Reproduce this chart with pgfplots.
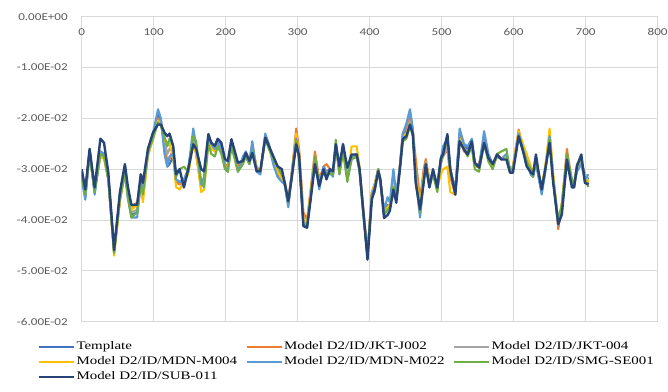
\documentclass[border=0pt]{standalone}
\usepackage{fontspec}
\setmainfont{Carlito}[FakeStretch=1.25]
\usepackage{pgfplots}
\usepackage{pgfplotstable}
\pgfplotsset{compat=1.18}
\newfontfamily\legfont{Liberation Serif}[FakeStretch=1.3]
\definecolor{cTemp}{HTML}{4472C4}
\definecolor{cJ002}{HTML}{ED7D31}
\definecolor{cJ004}{HTML}{A5A5A5}
\definecolor{cM004}{HTML}{FFC000}
\definecolor{cM022}{HTML}{5B9BD5}
\definecolor{cSE}{HTML}{70AD47}
\definecolor{cSUB}{HTML}{264478}
\definecolor{gridc}{HTML}{D9D9D9}
\definecolor{labc}{HTML}{595959}
\pgfplotstableread{
x T O G Y L S N
0 -0.0310 -0.0305 -0.0305 -0.0310 -0.0320 -0.0315 -0.0300
5 -0.0355 -0.0345 -0.0345 -0.0350 -0.0360 -0.0350 -0.0340
11 -0.0265 -0.0265 -0.0265 -0.0270 -0.0262 -0.0270 -0.0260
18 -0.0345 -0.0340 -0.0340 -0.0340 -0.0350 -0.0345 -0.0336
26 -0.0270 -0.0265 -0.0270 -0.0275 -0.0265 -0.0270 -0.0240
31 -0.0275 -0.0270 -0.0275 -0.0280 -0.0270 -0.0275 -0.0248
37 -0.0320 -0.0315 -0.0315 -0.0320 -0.0320 -0.0320 -0.0307
45 -0.0462 -0.0460 -0.0462 -0.0470 -0.0462 -0.0465 -0.0459
53 -0.0360 -0.0360 -0.0355 -0.0365 -0.0350 -0.0360 -0.0346
60 -0.0300 -0.0305 -0.0300 -0.0300 -0.0295 -0.0310 -0.0290
64 -0.0350 -0.0345 -0.0350 -0.0345 -0.0355 -0.0355 -0.0333
69 -0.0390 -0.0375 -0.0385 -0.0380 -0.0395 -0.0395 -0.0370
77 -0.0385 -0.0365 -0.0380 -0.0370 -0.0395 -0.0385 -0.0370
82 -0.0330 -0.0325 -0.0330 -0.0335 -0.0325 -0.0330 -0.0310
85 -0.0350 -0.0340 -0.0345 -0.0365 -0.0345 -0.0350 -0.0327
92 -0.0270 -0.0265 -0.0270 -0.0275 -0.0270 -0.0265 -0.0260
99 -0.0240 -0.0235 -0.0235 -0.0240 -0.0230 -0.0240 -0.0228
106 -0.0190 -0.0200 -0.0205 -0.0205 -0.0182 -0.0208 -0.0212
110 -0.0205 -0.0205 -0.0210 -0.0210 -0.0200 -0.0215 -0.0212
115 -0.0260 -0.0250 -0.0245 -0.0245 -0.0270 -0.0235 -0.0228
119 -0.0295 -0.0285 -0.0270 -0.0250 -0.0295 -0.0255 -0.0235
122 -0.0290 -0.0280 -0.0260 -0.0250 -0.0275 -0.0240 -0.0230
127 -0.0275 -0.0260 -0.0265 -0.0275 -0.0270 -0.0255 -0.0254
131 -0.0320 -0.0325 -0.0320 -0.0335 -0.0320 -0.0315 -0.0310
136 -0.0330 -0.0330 -0.0325 -0.0340 -0.0325 -0.0300 -0.0300
142 -0.0325 -0.0325 -0.0330 -0.0325 -0.0320 -0.0295 -0.0336
148 -0.0300 -0.0305 -0.0300 -0.0310 -0.0300 -0.0305 -0.0300
155 -0.0235 -0.0245 -0.0240 -0.0250 -0.0220 -0.0235 -0.0251
159 -0.0270 -0.0265 -0.0270 -0.0270 -0.0255 -0.0245 -0.0260
166 -0.0330 -0.0330 -0.0335 -0.0345 -0.0330 -0.0325 -0.0300
170 -0.0320 -0.0320 -0.0325 -0.0340 -0.0315 -0.0335 -0.0304
176 -0.0240 -0.0240 -0.0240 -0.0245 -0.0235 -0.0250 -0.0231
180 -0.0255 -0.0255 -0.0260 -0.0260 -0.0250 -0.0270 -0.0248
185 -0.0260 -0.0265 -0.0260 -0.0265 -0.0260 -0.0275 -0.0254
189 -0.0245 -0.0250 -0.0250 -0.0255 -0.0245 -0.0255 -0.0240
194 -0.0255 -0.0255 -0.0260 -0.0265 -0.0260 -0.0270 -0.0248
199 -0.0290 -0.0290 -0.0295 -0.0295 -0.0295 -0.0300 -0.0280
203 -0.0295 -0.0295 -0.0300 -0.0300 -0.0305 -0.0305 -0.0284
208 -0.0245 -0.0250 -0.0250 -0.0255 -0.0245 -0.0255 -0.0241
217 -0.0295 -0.0295 -0.0300 -0.0300 -0.0305 -0.0305 -0.0287
224 -0.0280 -0.0285 -0.0285 -0.0285 -0.0275 -0.0290 -0.0284
228 -0.0275 -0.0270 -0.0270 -0.0270 -0.0265 -0.0275 -0.0268
233 -0.0290 -0.0280 -0.0285 -0.0280 -0.0285 -0.0290 -0.0284
237 -0.0260 -0.0255 -0.0260 -0.0250 -0.0245 -0.0265 -0.0268
243 -0.0300 -0.0295 -0.0300 -0.0300 -0.0305 -0.0300 -0.0304
248 -0.0310 -0.0305 -0.0305 -0.0305 -0.0310 -0.0305 -0.0304
255 -0.0235 -0.0240 -0.0240 -0.0240 -0.0230 -0.0240 -0.0238
260 -0.0255 -0.0255 -0.0255 -0.0255 -0.0250 -0.0260 -0.0254
266 -0.0285 -0.0280 -0.0285 -0.0285 -0.0290 -0.0280 -0.0274
272 -0.0310 -0.0300 -0.0305 -0.0305 -0.0315 -0.0295 -0.0294
278 -0.0320 -0.0310 -0.0315 -0.0320 -0.0325 -0.0310 -0.0300
282 -0.0330 -0.0325 -0.0330 -0.0330 -0.0330 -0.0325 -0.0327
287 -0.0370 -0.0360 -0.0365 -0.0365 -0.0375 -0.0365 -0.0363
292 -0.0305 -0.0305 -0.0310 -0.0310 -0.0310 -0.0315 -0.0314
298 -0.0240 -0.0220 -0.0235 -0.0230 -0.0240 -0.0245 -0.0251
302 -0.0280 -0.0260 -0.0275 -0.0270 -0.0280 -0.0280 -0.0274
308 -0.0400 -0.0385 -0.0405 -0.0400 -0.0410 -0.0410 -0.0412
313 -0.0410 -0.0400 -0.0410 -0.0405 -0.0415 -0.0415 -0.0415
318 -0.0350 -0.0340 -0.0350 -0.0345 -0.0355 -0.0355 -0.0360
324 -0.0285 -0.0265 -0.0275 -0.0280 -0.0285 -0.0275 -0.0290
330 -0.0335 -0.0320 -0.0325 -0.0330 -0.0340 -0.0330 -0.0333
336 -0.0295 -0.0295 -0.0300 -0.0305 -0.0295 -0.0305 -0.0300
340 -0.0305 -0.0290 -0.0305 -0.0310 -0.0310 -0.0310 -0.0320
345 -0.0300 -0.0300 -0.0305 -0.0305 -0.0305 -0.0310 -0.0300
349 -0.0310 -0.0310 -0.0310 -0.0310 -0.0315 -0.0310 -0.0304
353 -0.0250 -0.0255 -0.0250 -0.0255 -0.0250 -0.0242 -0.0251
358 -0.0305 -0.0300 -0.0305 -0.0305 -0.0310 -0.0310 -0.0294
363 -0.0255 -0.0260 -0.0260 -0.0265 -0.0250 -0.0265 -0.0251
369 -0.0315 -0.0310 -0.0315 -0.0315 -0.0320 -0.0325 -0.0297
375 -0.0280 -0.0275 -0.0275 -0.0255 -0.0275 -0.0280 -0.0271
382 -0.0275 -0.0275 -0.0270 -0.0255 -0.0270 -0.0275 -0.0271
386 -0.0300 -0.0300 -0.0300 -0.0295 -0.0300 -0.0305 -0.0300
391 -0.0380 -0.0375 -0.0380 -0.0380 -0.0385 -0.0385 -0.0380
397 -0.0470 -0.0465 -0.0470 -0.0470 -0.0470 -0.0472 -0.0478
403 -0.0350 -0.0345 -0.0350 -0.0345 -0.0350 -0.0355 -0.0360
407 -0.0330 -0.0330 -0.0335 -0.0330 -0.0335 -0.0345 -0.0340
412 -0.0300 -0.0300 -0.0300 -0.0300 -0.0300 -0.0300 -0.0304
415 -0.0325 -0.0325 -0.0330 -0.0325 -0.0325 -0.0330 -0.0320
420 -0.0385 -0.0380 -0.0385 -0.0380 -0.0380 -0.0390 -0.0396
425 -0.0370 -0.0375 -0.0375 -0.0375 -0.0355 -0.0380 -0.0390
428 -0.0375 -0.0370 -0.0370 -0.0370 -0.0365 -0.0375 -0.0382
433 -0.0320 -0.0330 -0.0325 -0.0330 -0.0300 -0.0335 -0.0340
437 -0.0360 -0.0355 -0.0360 -0.0355 -0.0350 -0.0360 -0.0366
442 -0.0295 -0.0295 -0.0295 -0.0295 -0.0295 -0.0300 -0.0300
446 -0.0235 -0.0230 -0.0240 -0.0235 -0.0230 -0.0245 -0.0241
451 -0.0220 -0.0215 -0.0230 -0.0230 -0.0210 -0.0240 -0.0235
456 -0.0190 -0.0195 -0.0205 -0.0210 -0.0182 -0.0215 -0.0212
460 -0.0225 -0.0225 -0.0230 -0.0230 -0.0220 -0.0235 -0.0231
464 -0.0315 -0.0280 -0.0310 -0.0310 -0.0320 -0.0320 -0.0327
470 -0.0385 -0.0360 -0.0375 -0.0370 -0.0395 -0.0385 -0.0379
475 -0.0320 -0.0300 -0.0310 -0.0315 -0.0325 -0.0320 -0.0327
478 -0.0290 -0.0280 -0.0285 -0.0290 -0.0295 -0.0295 -0.0290
483 -0.0325 -0.0320 -0.0325 -0.0320 -0.0330 -0.0335 -0.0336
488 -0.0305 -0.0310 -0.0310 -0.0310 -0.0310 -0.0310 -0.0300
494 -0.0330 -0.0335 -0.0335 -0.0335 -0.0330 -0.0345 -0.0336
499 -0.0280 -0.0280 -0.0290 -0.0310 -0.0280 -0.0285 -0.0278
502 -0.0260 -0.0275 -0.0275 -0.0300 -0.0255 -0.0270 -0.0271
508 -0.0240 -0.0260 -0.0255 -0.0295 -0.0240 -0.0240 -0.0231
512 -0.0300 -0.0315 -0.0310 -0.0345 -0.0300 -0.0305 -0.0300
519 -0.0340 -0.0350 -0.0340 -0.0350 -0.0345 -0.0345 -0.0350
525 -0.0230 -0.0235 -0.0240 -0.0240 -0.0220 -0.0245 -0.0245
531 -0.0255 -0.0265 -0.0260 -0.0260 -0.0250 -0.0260 -0.0261
536 -0.0260 -0.0270 -0.0265 -0.0270 -0.0255 -0.0275 -0.0271
542 -0.0250 -0.0250 -0.0255 -0.0255 -0.0240 -0.0255 -0.0245
546 -0.0290 -0.0290 -0.0295 -0.0295 -0.0290 -0.0300 -0.0287
552 -0.0295 -0.0290 -0.0295 -0.0295 -0.0295 -0.0305 -0.0297
559 -0.0240 -0.0245 -0.0245 -0.0250 -0.0225 -0.0250 -0.0248
565 -0.0275 -0.0280 -0.0280 -0.0280 -0.0270 -0.0285 -0.0278
571 -0.0290 -0.0290 -0.0295 -0.0295 -0.0290 -0.0300 -0.0290
577 -0.0275 -0.0270 -0.0275 -0.0275 -0.0275 -0.0270 -0.0271
583 -0.0280 -0.0280 -0.0280 -0.0280 -0.0280 -0.0265 -0.0281
590 -0.0275 -0.0275 -0.0280 -0.0275 -0.0270 -0.0260 -0.0281
595 -0.0300 -0.0300 -0.0305 -0.0305 -0.0300 -0.0305 -0.0307
599 -0.0300 -0.0295 -0.0300 -0.0295 -0.0300 -0.0300 -0.0307
607 -0.0230 -0.0222 -0.0230 -0.0225 -0.0230 -0.0235 -0.0235
613 -0.0255 -0.0260 -0.0260 -0.0250 -0.0260 -0.0265 -0.0264
618 -0.0280 -0.0280 -0.0275 -0.0270 -0.0285 -0.0285 -0.0294
624 -0.0310 -0.0305 -0.0305 -0.0295 -0.0310 -0.0300 -0.0307
627 -0.0315 -0.0310 -0.0310 -0.0305 -0.0315 -0.0315 -0.0310
631 -0.0285 -0.0280 -0.0280 -0.0285 -0.0285 -0.0280 -0.0271
634 -0.0310 -0.0305 -0.0305 -0.0305 -0.0310 -0.0305 -0.0300
639 -0.0345 -0.0340 -0.0340 -0.0335 -0.0350 -0.0335 -0.0340
644 -0.0300 -0.0295 -0.0300 -0.0295 -0.0305 -0.0300 -0.0300
650 -0.0240 -0.0235 -0.0235 -0.0220 -0.0235 -0.0240 -0.0248
655 -0.0320 -0.0315 -0.0320 -0.0310 -0.0325 -0.0320 -0.0327
662 -0.0405 -0.0418 -0.0405 -0.0410 -0.0410 -0.0400 -0.0408
667 -0.0375 -0.0370 -0.0370 -0.0365 -0.0375 -0.0370 -0.0389
674 -0.0285 -0.0260 -0.0275 -0.0275 -0.0280 -0.0270 -0.0281
681 -0.0330 -0.0325 -0.0325 -0.0330 -0.0330 -0.0320 -0.0336
684 -0.0335 -0.0330 -0.0330 -0.0330 -0.0330 -0.0330 -0.0336
688 -0.0300 -0.0295 -0.0300 -0.0300 -0.0305 -0.0290 -0.0294
694 -0.0285 -0.0285 -0.0285 -0.0290 -0.0290 -0.0280 -0.0271
699 -0.0310 -0.0315 -0.0315 -0.0310 -0.0320 -0.0320 -0.0327
704 -0.0320 -0.0330 -0.0325 -0.0325 -0.0310 -0.0335 -0.0330
}\datatable
\begin{document}
\begin{tikzpicture}
\useasboundingbox (-81.7pt,-69.3pt) rectangle (586.3pt,321.7pt);
\begin{axis}[
  at={(0pt,0pt)}, anchor=south west,
  scale only axis, width=575.9pt, height=305pt,
  xmin=0, xmax=800, ymin=-0.06, ymax=0,
  xtick={0,100,...,800},
  ytick={-0.06,-0.05,-0.04,-0.03,-0.02,-0.01,0},
  yticklabels={-6.00E-02,-5.00E-02,-4.00E-02,-3.00E-02,-2.00E-02,-1.00E-02,0.00E+00},
  scaled y ticks=false,
  /pgf/number format/assume math mode=true,
  tick label style={font=\fontsize{10.5}{12}\selectfont, text=labc},
  xticklabel pos=upper,
  xticklabel style={anchor=north, inner sep=0pt, yshift=-11.7pt},
  yticklabel style={anchor=east, inner sep=0pt, xshift=-13.7pt},
  major tick length=0pt,
  grid=major,
  grid style={draw=gridc, line width=0.9pt},
  axis line style={draw=gridc, line width=0.9pt},
  legend columns=3,
  legend cell align=left,
  legend image code/.code={\draw[line width=1.8pt] (0pt,0pt) -- (35pt,0pt);},
  legend style={draw=none, fill=none, at={(axis description cs:0,0)}, anchor=north west,
    xshift=-43.7pt, yshift=-18.5pt, inner sep=0pt, row sep=1.5pt,
    font=\legfont\fontsize{11.5}{13}\selectfont,
    nodes={inner sep=1.5pt, text height=8pt, text depth=2.5pt},
    /tikz/every even column/.append style={column sep=7pt}},
  every axis plot/.append style={line join=round, line width=2.1pt},
]
\addplot[cTemp, no markers] table[x=x, y=T] {\datatable};
\addlegendentry{Template}
\addplot[cJ002, no markers] table[x=x, y=O] {\datatable};
\addlegendentry{Model D2/ID/JKT-J002}
\addplot[cJ004, no markers] table[x=x, y=G] {\datatable};
\addlegendentry{Model D2/ID/JKT-004}
\addplot[cM004, no markers] table[x=x, y=Y] {\datatable};
\addlegendentry{Model D2/ID/MDN-M004}
\addplot[cM022, no markers] table[x=x, y=L] {\datatable};
\addlegendentry{Model D2/ID/MDN-M022}
\addplot[cSE, no markers] table[x=x, y=S] {\datatable};
\addlegendentry{Model D2/ID/SMG-SE001}
\addplot[cSUB, no markers, line width=2.4pt] table[x=x, y=N] {\datatable};
\addlegendentry{Model D2/ID/SUB-011}
\end{axis}
\end{tikzpicture}
\end{document}
